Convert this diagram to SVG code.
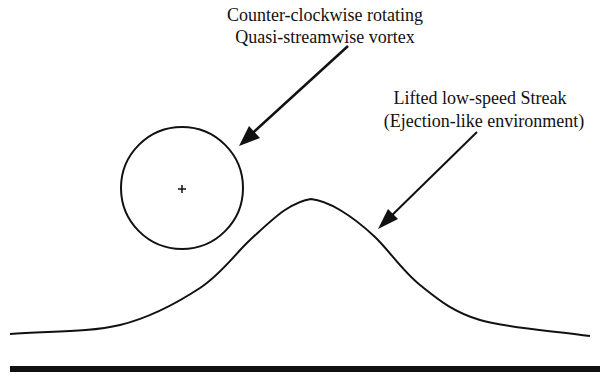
<svg xmlns="http://www.w3.org/2000/svg" width="600" height="377" viewBox="0 0 600 377">
<style>
.t{font-family:"Liberation Serif","Times New Roman",serif;font-size:18px;fill:#111;text-anchor:middle}
.ln{fill:none;stroke:#111;stroke-width:2}
</style>
<rect width="600" height="377" fill="#fff"/>
<g id="labels">
<text class="t" x="325" y="21">Counter-clockwise rotating</text>
<text class="t" x="325" y="43">Quasi-streamwise vortex</text>
<text class="t" x="480" y="104">Lifted low-speed Streak</text>
<text class="t" x="484" y="127">(Ejection-like environment)</text>
</g>
<g id="vortex">
<circle class="ln" cx="182" cy="188" r="61"/>
<path d="M178,189 H186 M182,185 V193" stroke="#111" stroke-width="1.5"/>
</g>
<g id="streak">
<path class="ln" d="M10,334 C46.7,331 88.3,332.7 120,325 C151.7,317.3 178.3,302.2 200,288 C221.7,273.8 235.8,253 250,240 C264.2,227 274.7,216.7 285,210 C295.3,203.3 302.8,200 311,199 C321.2,200 329.5,203.8 340,210 C350.5,216.2 361.7,224.5 375,237 C388.3,249.5 402.5,271.2 420,285 C437.5,298.8 451.7,311.5 480,320 C508.3,328.5 553.3,330.7 590,336"/>
</g>
<g id="wall">
<rect x="10" y="366" width="590" height="6" fill="#111"/>
</g>
<g id="connectors">
<line x1="348" y1="46" x2="245" y2="140" stroke="#111" stroke-width="2.5"/>
<path d="M239,146 L249,126 L260,138 z" fill="#111"/>
<line x1="477" y1="132" x2="384" y2="223" stroke="#111" stroke-width="2"/>
<path d="M378,229 L388,209 L398,219 z" fill="#111"/>
</g>
</svg>
